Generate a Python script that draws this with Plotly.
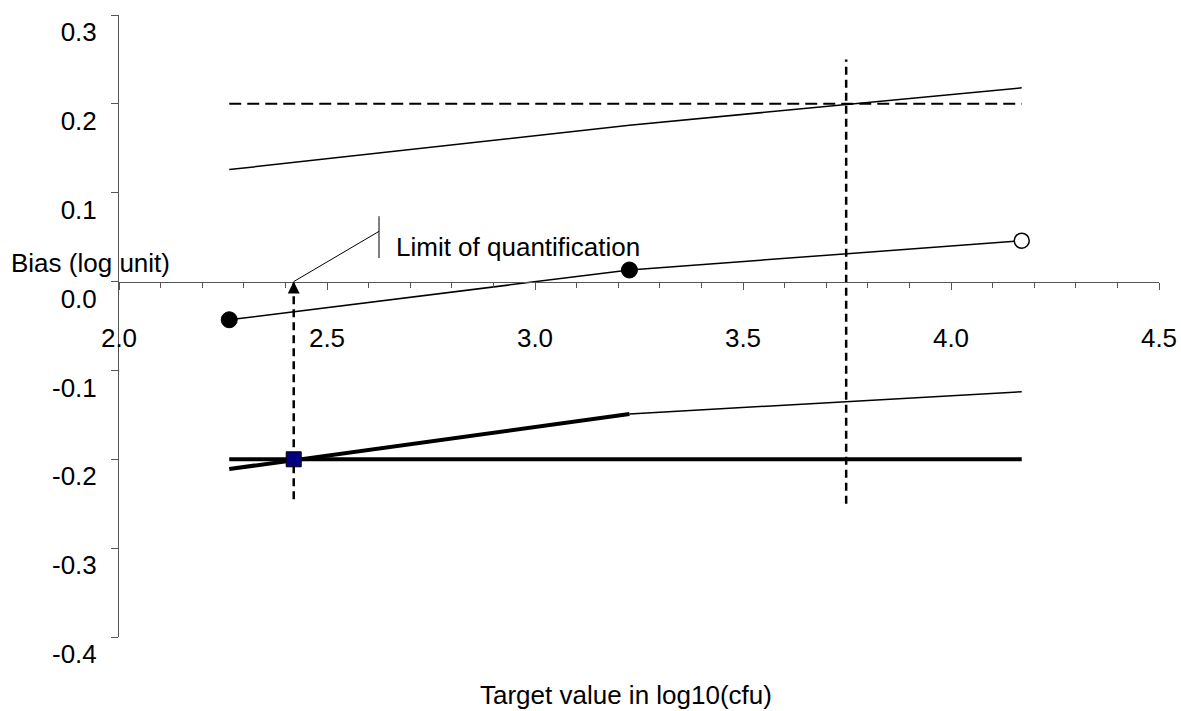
import plotly.graph_objects as go

# Target levels (log10 cfu) and the per-level statistics
levels = [2.265, 3.227, 4.170]
bias = [-0.043, 0.013, 0.046]
upper_limit = [0.126, 0.176, 0.218]
lower_limit = [-0.211, -0.149, -0.124]

# Acceptability limits and derived points
accept_upper = 0.2
accept_lower = -0.2
loq = 2.42
upper_cross = 3.748
cross_span = [-0.25, 0.25]
loq_drop = -0.245

# Axis settings
x_range = [2.0, 4.5]
y_range = [-0.4, 0.3]
x_ticks = [2.0, 2.5, 3.0, 3.5, 4.0, 4.5]
y_ticks = [0.3, 0.2, 0.1, 0.0, -0.1, -0.2, -0.3, -0.4]

FONT = "Liberation Sans, Arial, sans-serif"
FS = 26
AXIS_COLOR = "#555555"

fig = go.Figure()

# Horizontal acceptability limits
fig.add_trace(go.Scatter(x=[levels[0], levels[-1]], y=[accept_upper] * 2, mode="lines",
                         line=dict(color="black", width=2, dash="12px,6px"), hoverinfo="skip"))
fig.add_trace(go.Scatter(x=[levels[0], levels[-1]], y=[accept_lower] * 2, mode="lines",
                         line=dict(color="black", width=4), hoverinfo="skip"))

# Tolerance interval limits
fig.add_trace(go.Scatter(x=levels, y=upper_limit, mode="lines",
                         line=dict(color="black", width=1.5), hoverinfo="skip"))
fig.add_trace(go.Scatter(x=levels[1:], y=lower_limit[1:], mode="lines",
                         line=dict(color="black", width=1.5), hoverinfo="skip"))
fig.add_trace(go.Scatter(x=levels[:2], y=lower_limit[:2], mode="lines",
                         line=dict(color="black", width=4), hoverinfo="skip"))

# Vertical dashed markers
fig.add_trace(go.Scatter(x=[upper_cross, upper_cross], y=cross_span, mode="lines",
                         line=dict(color="black", width=2.5, dash="8px,5px"), hoverinfo="skip"))
fig.add_trace(go.Scatter(x=[loq, loq], y=[loq_drop, 0], mode="lines",
                         line=dict(color="black", width=2.5, dash="8px,5px"), hoverinfo="skip"))

# Bias line with level markers
fig.add_trace(go.Scatter(x=levels, y=bias, mode="lines",
                         line=dict(color="black", width=1.5), hoverinfo="skip"))
fig.add_trace(go.Scatter(x=levels[:2], y=bias[:2], mode="markers",
                         marker=dict(color="black", size=16, line=dict(color="black", width=1)),
                         hoverinfo="skip"))
fig.add_trace(go.Scatter(x=levels[2:], y=bias[2:], mode="markers",
                         marker=dict(color="white", size=15, line=dict(color="black", width=1.5)),
                         hoverinfo="skip"))

# LOQ point
fig.add_trace(go.Scatter(x=[loq], y=[accept_lower], mode="markers",
                         marker=dict(symbol="square", color="#000080", size=15,
                                     line=dict(color="black", width=1)),
                         hoverinfo="skip"))

# Arrow head on the LOQ drop line
fig.add_annotation(x=loq, y=0, xref="x", yref="y", text="", showarrow=True,
                   ax=0, ay=12, arrowhead=2, arrowsize=1.2, arrowwidth=2,
                   arrowcolor="black", standoff=0)

# Leader line and bracket for the LOQ label
leader_x = 2.625
fig.add_shape(type="line", x0=loq, y0=0, x1=leader_x, y1=0.0565,
              line=dict(color="black", width=1))
fig.add_shape(type="line", x0=leader_x, y0=0.0265, x1=leader_x, y1=0.0735,
              line=dict(color="black", width=1))
fig.add_annotation(x=2.662, y=0.039, xref="x", yref="y", text="Limit of quantification",
                   showarrow=False, xanchor="left", yanchor="middle",
                   font=dict(family=FONT, size=FS, color="black"))

# Axis titles
fig.add_annotation(x=-0.106, y=0.021, xref="paper", yref="y", text="Bias (log unit)",
                   showarrow=False, xanchor="left", yanchor="middle",
                   font=dict(family=FONT, size=FS, color="black"))
fig.add_annotation(x=0.4875, y=-0.093, xref="paper", yref="paper",
                   text="Target value in log10(cfu)", showarrow=False,
                   xanchor="center", yanchor="middle",
                   font=dict(family=FONT, size=FS, color="black"))

# x axis crosses at y = 0
zero_pos = (0 - y_range[0]) / (y_range[1] - y_range[0])

fig.update_layout(
    width=1181, height=711,
    margin=dict(l=119, r=22, t=15, b=74, autoexpand=False),
    paper_bgcolor="white", plot_bgcolor="white",
    showlegend=False,
    font=dict(family=FONT, size=FS, color="black"),
    xaxis=dict(range=x_range, tickvals=x_ticks, ticktext=[f"{v:.1f}" for v in x_ticks],
               showgrid=False, zeroline=False, showline=True, linecolor=AXIS_COLOR, linewidth=1,
               ticks="outside", ticklen=7, tickcolor=AXIS_COLOR, tickwidth=1,
               minor=dict(dtick=0.1, tick0=2.0, ticks="outside", ticklen=5,
                          tickcolor=AXIS_COLOR, tickwidth=1, showgrid=False),
               anchor="free", position=zero_pos, ticklabelstandoff=26, automargin=False,
               tickfont=dict(family=FONT, size=FS, color="black")),
    yaxis=dict(range=y_range, tickvals=y_ticks, ticktext=[f"{v:.1f}" for v in y_ticks],
               showgrid=False, zeroline=False, showline=True, linecolor=AXIS_COLOR, linewidth=1,
               ticks="outside", ticklen=7, tickcolor=AXIS_COLOR, tickwidth=1,
               ticklabelshift=17, ticklabelstandoff=9, automargin=False,
               tickfont=dict(family=FONT, size=FS, color="black")),
)

fig.write_html("out.html")
